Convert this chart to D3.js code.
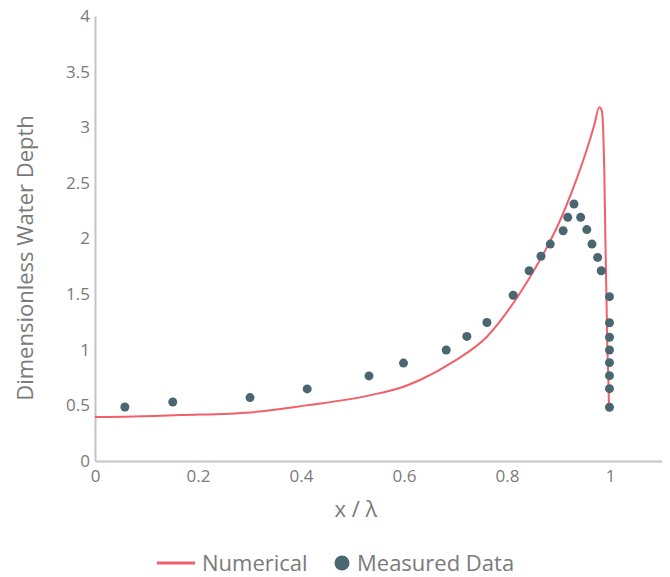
<!DOCTYPE html>
<html><head><meta charset="utf-8">
<script src="https://cdn.jsdelivr.net/npm/d3@7"></script>
<style>body{margin:0;background:#fff}svg{display:block}text{font-family:"Open Sans",sans-serif}</style>
</head><body><svg id="c" width="670" height="577"></svg>
<script>
// Numerical solution (x/λ, depth)
const numX = [0, 0.058, 0.165, 0.302, 0.411, 0.533, 0.599, 0.631, 0.696, 0.761, 0.812, 0.845, 0.875, 0.90, 0.93, 0.955, 0.970, 0.979, 0.984, 0.987, 0.989, 0.991, 0.993, 0.995, 0.997, 0.998];
const numY = [0.395, 0.398, 0.413, 0.437, 0.50, 0.59, 0.668, 0.728, 0.893, 1.117, 1.418, 1.657, 1.90, 2.13, 2.47, 2.80, 3.03, 3.18, 3.15, 2.95, 2.60, 2.00, 1.50, 1.00, 0.70, 0.48];
// Measured data
const measX = [0.058, 0.151, 0.301, 0.412, 0.532, 0.599, 0.682, 0.722, 0.761, 0.812, 0.843, 0.866, 0.884, 0.909, 0.918, 0.930, 0.943, 0.955, 0.965, 0.976, 0.983, 0.999, 0.999, 0.999, 0.999, 0.999, 0.999, 0.999, 0.999];
const measY = [0.485, 0.53, 0.57, 0.648, 0.765, 0.88, 0.998, 1.12, 1.245, 1.49, 1.71, 1.84, 1.95, 2.07, 2.19, 2.31, 2.19, 2.08, 1.95, 1.83, 1.71, 1.477, 1.243, 1.112, 0.998, 0.884, 0.767, 0.65, 0.483];
const xTicks = [0, 0.2, 0.4, 0.6, 0.8, 1];
const yTicks = [0, 0.5, 1, 1.5, 2, 2.5, 3, 3.5, 4];
const legendLabels = ["Numerical", "Measured Data"];

const svg = d3.select("#c");
const x = d3.scaleLinear().domain([0, 1.1]).range([95, 661.5]);
const y = d3.scaleLinear().domain([0, 4]).range([461, 16]);
const lineColor = "#f25f6b", dotColor = "#4a6670", axisColor = "#c4c4c4", textColor = "#7a7a7a";

// axes
const xAxis = svg.append("g").attr("transform", `translate(0,${y(0)})`)
  .call(d3.axisBottom(x).tickValues(xTicks).tickSize(0).tickPadding(9).tickFormat(d3.format("")));
const yAxis = svg.append("g").attr("transform", `translate(${x(0)},0)`)
  .call(d3.axisLeft(y).tickValues(yTicks).tickSize(0).tickPadding(5).tickFormat(d3.format("")));
[xAxis, yAxis].forEach(a => {
  a.select(".domain").attr("stroke", axisColor).attr("stroke-width", 2);
  a.selectAll("text").attr("fill", textColor).style("font-size", "17px").style("font-family", '"Open Sans",sans-serif');
});

// line
const pts = numX.map((d, i) => [d, numY[i]]);
svg.append("path").datum(pts)
  .attr("fill", "none").attr("stroke", lineColor).attr("stroke-width", 2)
  .attr("d", d3.line().x(d => x(d[0])).y(d => y(d[1])).curve(d3.curveMonotoneX));

// points
svg.append("g").selectAll("circle").data(measX.map((d, i) => [d, measY[i]])).join("circle")
  .attr("cx", d => x(d[0])).attr("cy", d => y(d[1])).attr("r", 4.5).attr("fill", dotColor);

// axis titles
svg.append("text").attr("x", 356).attr("y", 517).attr("text-anchor", "middle")
  .attr("fill", textColor).style("font-size", "22px").text("x / λ");
svg.append("text").attr("transform", "translate(33,258) rotate(-90)").attr("text-anchor", "middle")
  .attr("fill", textColor).style("font-size", "22px").text("Dimensionless Water Depth");

// legend
const lg = svg.append("g");
lg.append("line").attr("x1", 157).attr("x2", 195).attr("y1", 563).attr("y2", 563)
  .attr("stroke", lineColor).attr("stroke-width", 3);
lg.append("text").attr("x", 202).attr("y", 571).attr("fill", textColor).style("font-size", "22px").text(legendLabels[0]);
lg.append("circle").attr("cx", 342).attr("cy", 563).attr("r", 7.5).attr("fill", dotColor);
lg.append("text").attr("x", 357).attr("y", 571).attr("fill", textColor).style("font-size", "22px").text(legendLabels[1]);
</script></body></html>
